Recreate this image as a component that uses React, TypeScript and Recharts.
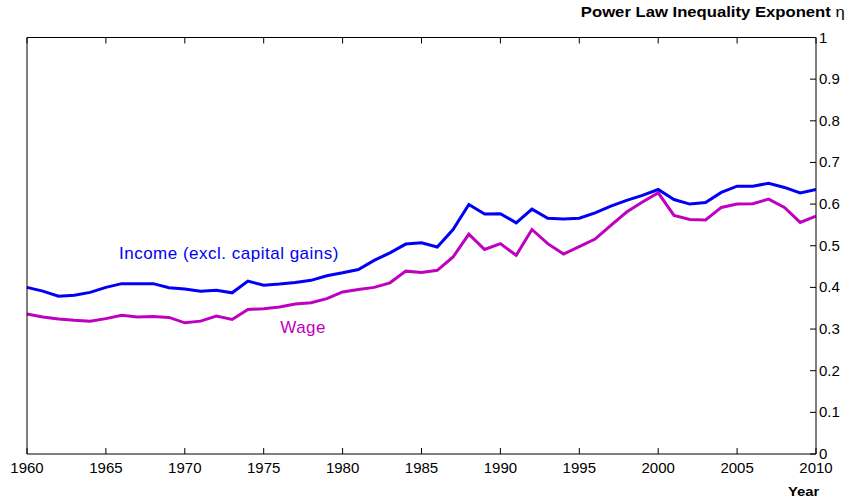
import React from 'react';
import { LineChart, Line, XAxis, YAxis, ReferenceDot } from 'recharts';

const years = [
  1960, 1961, 1962, 1963, 1964, 1965, 1966, 1967, 1968, 1969,
  1970, 1971, 1972, 1973, 1974, 1975, 1976, 1977, 1978, 1979,
  1980, 1981, 1982, 1983, 1984, 1985, 1986, 1987, 1988, 1989,
  1990, 1991, 1992, 1993, 1994, 1995, 1996, 1997, 1998, 1999,
  2000, 2001, 2002, 2003, 2004, 2005, 2006, 2007, 2008, 2009, 2010,
];

const income = [
  0.400, 0.391, 0.379, 0.381, 0.388, 0.400, 0.409, 0.409, 0.409, 0.399,
  0.396, 0.391, 0.393, 0.387, 0.415, 0.405, 0.408, 0.412, 0.417, 0.428,
  0.435, 0.443, 0.465, 0.483, 0.504, 0.507, 0.497, 0.539, 0.599, 0.576,
  0.577, 0.555, 0.588, 0.566, 0.564, 0.566, 0.579, 0.595, 0.609, 0.621,
  0.635, 0.611, 0.600, 0.604, 0.628, 0.643, 0.643, 0.650, 0.640, 0.627, 0.635,
];

const wage = [
  0.336, 0.329, 0.324, 0.321, 0.319, 0.325, 0.333, 0.329, 0.330, 0.328,
  0.315, 0.319, 0.331, 0.323, 0.347, 0.349, 0.353, 0.360, 0.363, 0.373,
  0.389, 0.395, 0.400, 0.411, 0.439, 0.436, 0.441, 0.473, 0.528, 0.491,
  0.505, 0.477, 0.539, 0.505, 0.480, 0.498, 0.516, 0.549, 0.581, 0.605,
  0.627, 0.573, 0.563, 0.562, 0.592, 0.600, 0.601, 0.612, 0.592, 0.556, 0.571,
];

const xTicks = [1960, 1965, 1970, 1975, 1980, 1985, 1990, 1995, 2000, 2005, 2010];
const yTicks = [0, 0.1, 0.2, 0.3, 0.4, 0.5, 0.6, 0.7, 0.8, 0.9, 1];
const yTickLabels = ['0', '0.1', '0.2', '0.3', '0.4', '0.5', '0.6', '0.7', '0.8', '0.9', '1'];

const seriesNames = {
  income: 'Income (excl. capital gains)',
  wage: 'Wage',
};

const data = years.map((y, i) => ({ year: y, income: income[i], wage: wage[i] }));

const FONT = '"Liberation Sans", Arial, Helvetica, sans-serif';
const BLUE = '#0000f5';
const MAGENTA = '#c000c0';
const TICK = 6;
// axis tickSize (1) + tickMargin (1): offset of the tick anchor from the axis line
const OFF = 2;

const BottomTick = (props: any) => {
  const { x, y, payload } = props;
  const ay = y - OFF;
  return (
    <g>
      <line x1={x} y1={ay} x2={x} y2={ay - TICK} stroke="#000" strokeWidth={1} />
      <text x={x} y={ay + 19} textAnchor="middle" fontSize={15} fontFamily={FONT} fill="#000">
        {String(payload.value)}
      </text>
    </g>
  );
};

const TopTick = (props: any) => {
  const { x, y } = props;
  const ay = y + OFF;
  return <line x1={x} y1={ay} x2={x} y2={ay + TICK} stroke="#000" strokeWidth={1} />;
};

const LeftTick = (props: any) => {
  const { x, y } = props;
  const ax = x + OFF;
  return <line x1={ax} y1={y} x2={ax + TICK} y2={y} stroke="#000" strokeWidth={1} />;
};

const RightTick = (props: any) => {
  const { x, y, payload } = props;
  const ax = x - OFF;
  const idx = yTicks.indexOf(payload.value);
  const label = idx >= 0 ? yTickLabels[idx] : String(payload.value);
  return (
    <g>
      <line x1={ax} y1={y} x2={ax - TICK} y2={y} stroke="#000" strokeWidth={1} />
      <text x={ax + 3} y={y + 5} textAnchor="start" fontSize={15} fontFamily={FONT} fill="#000">
        {label}
      </text>
    </g>
  );
};

export default function App() {
  return (
    <div style={{ position: 'absolute', left: 0, top: 0, width: 847, height: 504, background: '#fff', fontFamily: FONT }}>
      <LineChart
        width={847}
        height={504}
        data={data}
        margin={{ top: 36.5, right: 0, bottom: 0, left: 26 }}
      >
        <XAxis
          xAxisId="bottom"
          dataKey="year"
          type="number"
          domain={[1960, 2010]}
          ticks={xTicks}
          interval={0}
          orientation="bottom"
          height={50}
          tickLine={false}
          tickSize={1}
          tickMargin={1}
          axisLine={{ stroke: '#000', strokeWidth: 1 }}
          tick={<BottomTick />}
        />
        <XAxis
          xAxisId="top"
          dataKey="year"
          type="number"
          domain={[1960, 2010]}
          ticks={xTicks}
          interval={0}
          orientation="top"
          height={1}
          tickLine={false}
          tickSize={1}
          tickMargin={1}
          axisLine={{ stroke: '#000', strokeWidth: 1 }}
          tick={<TopTick />}
        />
        <YAxis
          yAxisId="left"
          type="number"
          domain={[0, 1]}
          ticks={yTicks}
          interval={0}
          orientation="left"
          width={1}
          tickLine={false}
          tickSize={1}
          tickMargin={1}
          axisLine={{ stroke: '#000', strokeWidth: 1 }}
          tick={<LeftTick />}
        />
        <YAxis
          yAxisId="right"
          type="number"
          domain={[0, 1]}
          ticks={yTicks}
          interval={0}
          orientation="right"
          width={31}
          tickLine={false}
          tickSize={1}
          tickMargin={1}
          axisLine={{ stroke: '#000', strokeWidth: 1 }}
          tick={<RightTick />}
        />
        <Line
          xAxisId="bottom"
          yAxisId="right"
          type="linear"
          dataKey="wage"
          name={seriesNames.wage}
          stroke={MAGENTA}
          strokeWidth={3}
          dot={false}
          isAnimationActive={false}
        />
        <Line
          xAxisId="bottom"
          yAxisId="right"
          type="linear"
          dataKey="income"
          name={seriesNames.income}
          stroke={BLUE}
          strokeWidth={3}
          dot={false}
          isAnimationActive={false}
        />
        <ReferenceDot
          xAxisId="bottom"
          yAxisId="right"
          x={1972.8}
          y={0.482}
          r={0}
          fill="none"
          stroke="none"
          label={{ value: seriesNames.income, position: 'center', fill: BLUE, fontSize: 17, fontFamily: FONT, letterSpacing: 0.5 }}
        />
        <ReferenceDot
          xAxisId="bottom"
          yAxisId="right"
          x={1977.5}
          y={0.305}
          r={0}
          fill="none"
          stroke="none"
          label={{ value: seriesNames.wage, position: 'center', fill: MAGENTA, fontSize: 17, fontFamily: FONT, letterSpacing: 0.5 }}
        />
      </LineChart>
      <div style={{ position: 'absolute', right: 2, top: 4, fontSize: 14, fontWeight: 'bold', whiteSpace: 'nowrap', lineHeight: '16px', transform: 'scaleX(1.19)', transformOrigin: 'right center' }}>
        Power Law Inequality Exponent <span style={{ fontWeight: 'normal' }}>η</span>
      </div>
      <div style={{ position: 'absolute', left: 788, top: 484, fontSize: 13, fontWeight: 'bold', whiteSpace: 'nowrap', lineHeight: '16px', transform: 'scaleX(1.14)', transformOrigin: 'left center' }}>
        Year
      </div>
    </div>
  );
}
